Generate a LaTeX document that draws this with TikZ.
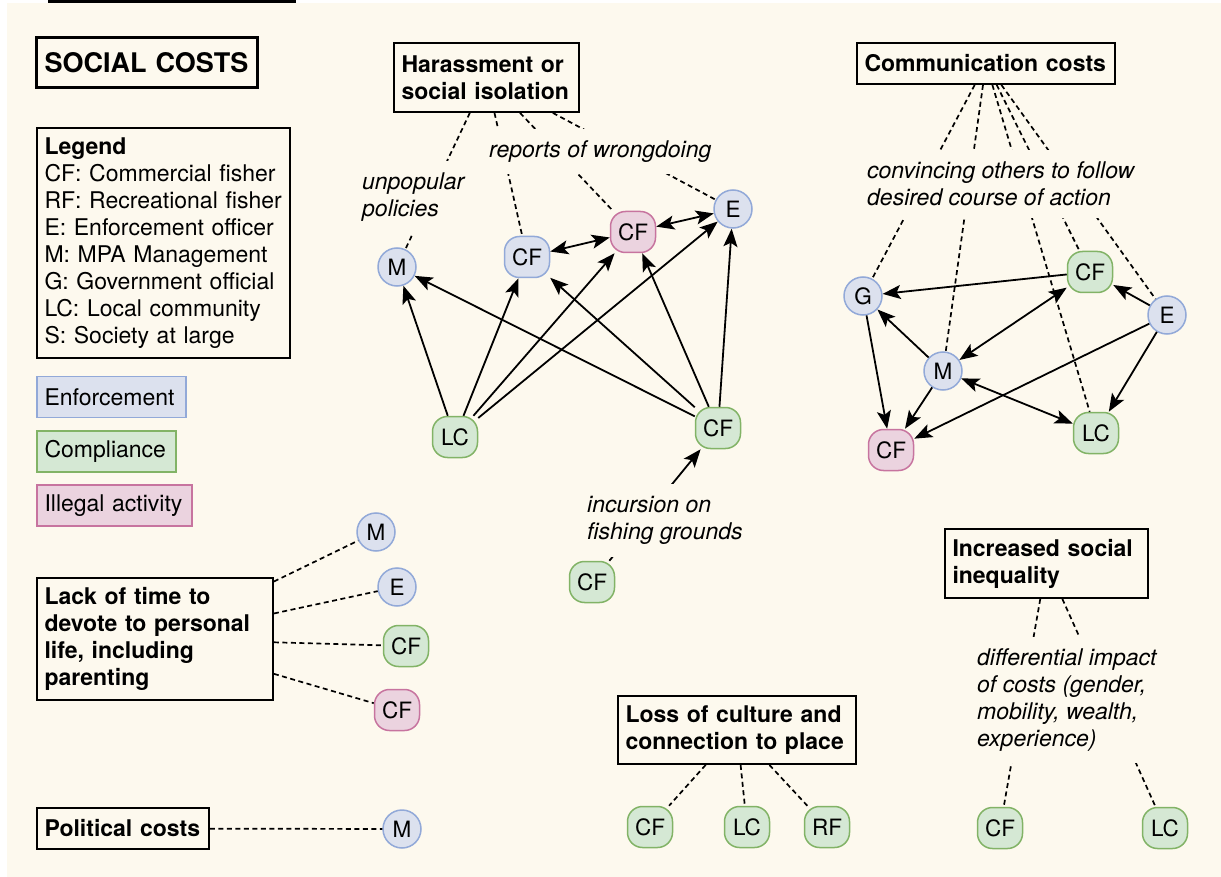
\documentclass[tikz,border=0pt]{standalone}
\usepackage{fontspec}
\setmainfont{TeX Gyre Heros}
\usetikzlibrary{arrows.meta}
\definecolor{paper}{HTML}{FDF9EE}
\definecolor{enffill}{HTML}{DCE1EE}
\definecolor{enfline}{HTML}{92A9D8}
\definecolor{compfill}{HTML}{D5E8D4}
\definecolor{compline}{HTML}{82B366}
\definecolor{illfill}{HTML}{EBD3DF}
\definecolor{illline}{HTML}{C7749F}

\begin{document}
\begin{tikzpicture}[x=1pt, y=-1pt, every node/.style={font=\fontsize{23}{27}\selectfont},
  >={Stealth[length=18pt,width=14pt,inset=4pt]}]
  \tikzstyle{cost}=[draw, line width=1.8pt, align=left, inner xsep=7.5pt, inner ysep=0pt, font=\bfseries\fontsize{23}{27}\selectfont]
  \tikzstyle{swatch}=[rectangle, line width=1.5pt, align=left, inner xsep=7.5pt, inner ysep=0pt, minimum height=41pt]
  \tikzstyle{who}=[line width=1.5pt, inner sep=0pt, font=\fontsize{22.5}{22.5}\selectfont]
  \tikzstyle{ring}=[who, circle, minimum size=38pt]
  \tikzstyle{pill}=[who, rectangle, rounded corners=15pt, minimum width=45pt, minimum height=41pt]
  \tikzstyle{enf}=[draw=enfline, fill=enffill]
  \tikzstyle{comp}=[draw=compline, fill=compfill]
  \tikzstyle{ill}=[draw=illline, fill=illfill]
  \tikzstyle{why}=[fill=paper, align=left, inner xsep=4pt, inner ysep=12pt, font=\itshape\fontsize{23}{27}\selectfont]
  \tikzstyle{tie}=[line width=1.7pt, dash pattern=on 5pt off 3.5pt]
  \tikzstyle{act}=[line width=1.8pt, ->]
  \tikzstyle{mutual}=[line width=1.8pt, <->]

\useasboundingbox (0,0) rectangle (1221,877);
\fill[white] (0,0) rectangle (1221,877);
\fill[paper] (7,3.5) rectangle (1221,877);
\draw[line width=2.7pt] (48,1.35) -- (296,1.35);

% title, legend and key
\node[cost, line width=3pt, align=center, text width=206pt, minimum height=50pt, font=\bfseries\fontsize{27}{32}\selectfont] (social) at (146.5,63) {SOCIAL COSTS};
\node[draw, line width=1.5pt, align=left, text width=238pt, minimum height=230pt, inner xsep=7.5pt] (legend) at (163.5,243)
  {\textbf{Legend}\\CF: Commercial fisher\\RF: Recreational fisher\\E: Enforcement officer\\M: MPA Management\\G: Government official\\LC: Local community\\S: Society at large};
\node[swatch, enf, text width=134pt] (enfkey) at (111.5,397) {Enforcement};
\node[swatch, comp, text width=124pt] (compkey) at (106.5,451.5) {Compliance};
\node[swatch, ill, text width=140pt] (illkey) at (114.5,505.5) {Illegal activity};

% cost boxes
\node[cost, text width=170pt, minimum height=69pt] (harass) at (486.5,77.5) {Harassment or\\social isolation};
\node[cost, text width=243pt, minimum height=41pt] (comm) at (986,63.5) {Communication costs};
\node[cost, text width=221pt, minimum height=122pt] (lack) at (155,639) {Lack of time to\\devote to personal\\life, including\\parenting};
\node[cost, text width=157pt, minimum height=41pt] (political) at (123,828.5) {Political costs};
\node[cost, text width=223pt, minimum height=68pt] (loss) at (737,730) {Loss of culture and\\connection to place};
\node[cost, text width=188pt, minimum height=69pt] (ineq) at (1046.5,563.5) {Increased social\\inequality};

% harassment
\node[ring, enf] (hM) at (397,267) {M};
\node[pill, enf] (hCF) at (527,257) {CF};
\node[pill, ill] (hCFx) at (633,232) {CF};
\node[ring, enf] (hE) at (733,209) {E};
\node[pill, comp] (hLC) at (455,437) {LC};
\node[pill, comp] (hCFc) at (718,428) {CF};
\node[pill, comp] (iCF) at (592,582) {CF};

% communication
\node[ring, enf] (cG) at (863,296) {G};
\node[pill, comp] (cCF) at (1090,272) {CF};
\node[ring, enf] (cE) at (1167,315) {E};
\node[ring, enf] (cM) at (943,371) {M};
\node[pill, comp] (cLC) at (1096,433) {LC};
\node[pill, ill] (cCFx) at (891,450) {CF};

% lack of time, political
\node[ring, enf] (lM) at (376,532) {M};
\node[ring, enf] (lE) at (397,587) {E};
\node[pill, comp] (lCF) at (406,646) {CF};
\node[pill, ill] (lCFx) at (397,710) {CF};
\node[ring, enf] (pM) at (402,829) {M};

% culture, inequality
\node[pill, comp] (oCF) at (650,827) {CF};
\node[pill, comp] (oLC) at (747,827) {LC};
\node[pill, comp] (oRF) at (827,827) {RF};
\node[pill, comp] (qCF) at (1000,828) {CF};
\node[pill, comp] (qLC) at (1165,828) {LC};

\draw[tie] (harass) -- (hM);
\draw[tie] (harass) -- (hCF);
\draw[tie] (harass) -- (hCFx);
\draw[tie] (harass) -- (hE);

\draw[tie] (comm) -- (cG);
\draw[tie] (comm) -- (cM);
\draw[tie] (comm) -- (cLC);
\draw[tie] (comm) -- (cCF);
\draw[tie] (comm) -- (cE);

\draw[tie] (lack) -- (lM);
\draw[tie] (lack) -- (lE);
\draw[tie] (lack) -- (lCF);
\draw[tie] (lack) -- (lCFx);
\draw[tie] (political) -- (pM);

\draw[tie] (loss) -- (oCF);
\draw[tie] (loss) -- (oLC);
\draw[tie] (loss) -- (oRF);
\draw[tie] (ineq) -- (qCF);
\draw[tie] (ineq) -- (qLC);

\draw[act] (hLC) -- (hM);
\draw[act] (hLC) -- (hCF);
\draw[act] (hLC) -- (hCFx);
\draw[act] (hLC) -- (hE);
\draw[act] (hCFc) -- (hM);
\draw[act] (hCFc) -- (hCF);
\draw[act] (hCFc) -- (hCFx);
\draw[act] (hCFc) -- (hE);
\draw[mutual] (hCF) -- (hCFx);
\draw[mutual] (hCFx) -- (hE);
\draw[act] (iCF) -- (hCFc);

\draw[act] (cCF) -- (cG);
\draw[act] (cE) -- (cCF);
\draw[act] (cM) -- (cG);
\draw[act] (cG) -- (cCFx);
\draw[act] (cM) -- (cCFx);
\draw[act] (cE) -- (cCFx);
\draw[act] (cE) -- (cLC);
\draw[mutual] (cM) -- (cCF);
\draw[mutual] (cM) -- (cLC);

% edge labels sit on top of the lines
\node[why, anchor=west] (unpop) at (358,197.5) {unpopular\\policies};
\node[why, anchor=west] (reports) at (485,151.5) {reports of wrongdoing};
\node[why, anchor=west] (convince) at (863,184) {convincing others to follow\\desired course of action};
\node[why, anchor=west] (incursion) at (583,520.5) {incursion on\\fishing grounds};
\node[why, anchor=west] (impact) at (973,700) {differential impact\\of costs (gender,\\mobility, wealth,\\experience)};

\end{tikzpicture}
\end{document}
